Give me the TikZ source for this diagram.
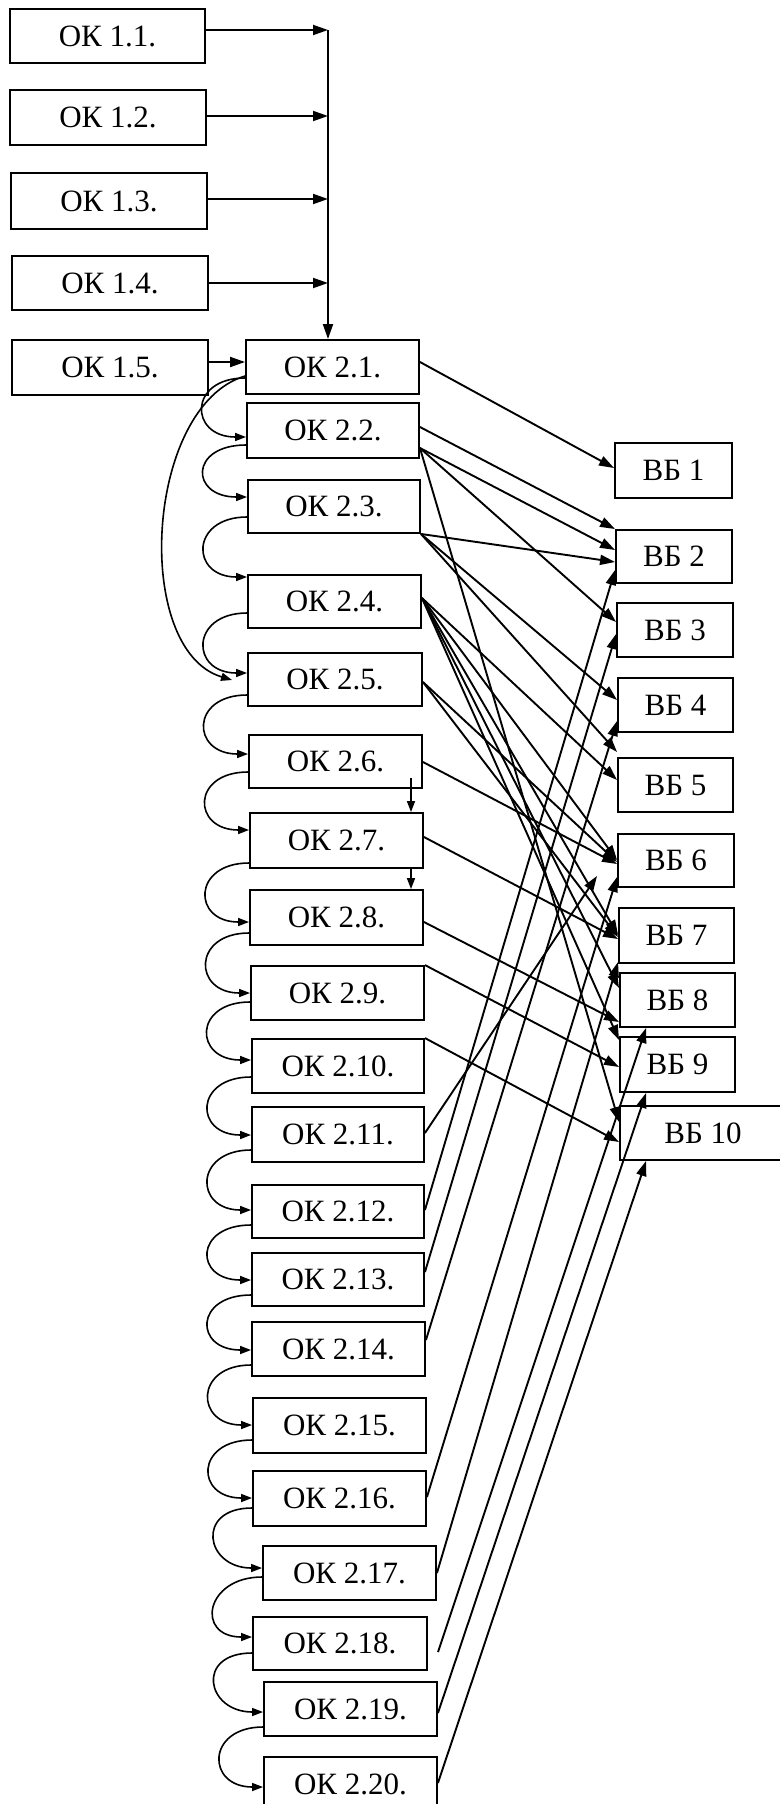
\documentclass[tikz,border=0pt]{standalone}
\usepackage{fontspec}
\setmainfont{Liberation Serif}
\usetikzlibrary{arrows.meta,calc}
\newcommand\mybox[6]{%
  \pgfmathsetmacro\myCx{(#2+#4)/2}\pgfmathsetmacro\myCy{(#3+#5)/2}%
  \pgfmathsetmacro\myW{#4-#2}\pgfmathsetmacro\myH{#5-#3}%
  \node[box,minimum width=\myW pt,minimum height=\myH pt] (#1) at (\myCx,\myCy) {#6};}
\newcommand\myarc[4]{\draw[carr] (#1.west |- 0,#2) .. controls +(-57,0) and +(-57,0) .. (#3.west |- 0,#4);}
\begin{document}
\begin{tikzpicture}[x=1pt,y=-1pt,
  box/.style={draw, line width=1.9pt, inner sep=0pt, font=\fontsize{31}{34}\selectfont},
  arr/.style={line width=1.9pt, -{Triangle[length=15pt,width=10pt]}},
  carr/.style={line width=1.6pt, -{Triangle[length=11pt,width=8pt]}}]
\fill[white] (0,0) rectangle (779,1804);
\useasboundingbox (0,0) rectangle (779,1804);
% left column
\mybox{a1}{10}{9}{205}{63}{ОК 1.1.}
\mybox{a2}{10}{90}{206}{145}{ОК 1.2.}
\mybox{a3}{11}{173}{207}{229}{ОК 1.3.}
\mybox{a4}{12}{256}{208}{310}{ОК 1.4.}
\mybox{a5}{12}{340}{208}{395}{ОК 1.5.}
% middle column
\mybox{b1}{246}{340}{419}{394}{ОК 2.1.}
\mybox{b2}{247}{403}{419}{458}{ОК 2.2.}
\mybox{b3}{248}{480}{420}{533}{ОК 2.3.}
\mybox{b4}{248}{575}{421}{628}{ОК 2.4.}
\mybox{b5}{248}{653}{422}{706}{ОК 2.5.}
\mybox{b6}{249}{735}{422}{788}{ОК 2.6.}
\mybox{b7}{250}{813}{423}{868}{ОК 2.7.}
\mybox{b8}{250}{890}{423}{945}{ОК 2.8.}
\mybox{b9}{251}{966}{424}{1020}{ОК 2.9.}
\mybox{b10}{252}{1039}{424}{1093}{ОК 2.10.}
\mybox{b11}{252}{1107}{424}{1162}{ОК 2.11.}
\mybox{b12}{252}{1185}{424}{1238}{ОК 2.12.}
\mybox{b13}{252}{1253}{424}{1306}{ОК 2.13.}
\mybox{b14}{252}{1322}{425}{1376}{ОК 2.14.}
\mybox{b15}{253}{1398}{426}{1453}{ОК 2.15.}
\mybox{b16}{253}{1471}{426}{1526}{ОК 2.16.}
\mybox{b17}{263}{1546}{436}{1600}{ОК 2.17.}
\mybox{b18}{253}{1617}{427}{1670}{ОК 2.18.}
\mybox{b19}{264}{1682}{437}{1736}{ОК 2.19.}
\mybox{b20}{264}{1757}{437}{1811}{ОК 2.20.}
% right column
\mybox{v1}{615}{443}{732}{498}{ВБ 1}
\mybox{v2}{616}{530}{732}{583}{ВБ 2}
\mybox{v3}{617}{603}{733}{657}{ВБ 3}
\mybox{v4}{618}{678}{733}{732}{ВБ 4}
\mybox{v5}{618}{758}{733}{812}{ВБ 5}
\mybox{v6}{618}{834}{734}{887}{ВБ 6}
\mybox{v7}{619}{908}{734}{963}{ВБ 7}
\mybox{v8}{620}{973}{735}{1027}{ВБ 8}
\mybox{v9}{620}{1037}{735}{1092}{ВБ 9}
\mybox{v10}{620}{1106}{786}{1160}{ВБ 10}
% top bus
\coordinate (j1) at (328,30);
\coordinate (j2) at (328,116);
\coordinate (j3) at (328,199);
\coordinate (j4) at (328,283);
\coordinate (j5) at (0,362);
\draw[arr] (a1.east |- j1) -- (j1);
\draw[arr] (a2.east |- j2) -- (j2);
\draw[arr] (a3.east |- j3) -- (j3);
\draw[arr] (a4.east |- j4) -- (j4);
\draw[arr] (j1) -- (b1.north -| j1);
\draw[arr] (a5.east |- j5) -- (b1.west |- j5);
% left arcs
\myarc{b1}{378}{b2}{437}
\myarc{b2}{445}{b3}{497}
\myarc{b3}{517}{b4}{577}
\myarc{b4}{613}{b5}{673}
\myarc{b5}{695}{b6}{754}
\myarc{b6}{772}{b7}{830}
\myarc{b7}{863}{b8}{922}
\myarc{b8}{933}{b9}{993}
\myarc{b9}{1002}{b10}{1060}
\myarc{b10}{1077}{b11}{1135}
\myarc{b11}{1150}{b12}{1210}
\myarc{b12}{1225}{b13}{1280}
\myarc{b13}{1295}{b14}{1350}
\myarc{b14}{1365}{b15}{1425}
\myarc{b15}{1440}{b16}{1498}
\myarc{b16}{1508}{b17}{1568}
\myarc{b17}{1577}{b18}{1637}
\myarc{b18}{1653}{b19}{1712}
\myarc{b19}{1727}{b20}{1787}
\coordinate (bigend) at (232,680);
\draw[carr] (b1.west |- 0,376) .. controls +(-100,30) and +(-100,-30) .. (bigend);
% small vertical arrows
\coordinate (s1) at (411,778);
\draw[carr] (s1) -- (s1 |- b7.north);
\draw[carr] (b7.south -| s1) -- (b8.north -| s1);
% lines to the right column
\draw[arr] (b1.east |- 0,362) -- (v1.west |- 0,468);
\draw[arr] (b2.east |- 0,427) -- (v2.north west);
\draw[arr] (b2.east |- 0,448) -- (v2.west |- 0,550);
\draw[arr] (b2.east |- 0,448) -- (v3.west |- 0,622);
\draw[arr] (b2.east |- 0,448) -- (v10.west |- 0,1122);
\draw[arr] (b3.south east) -- (v2.west |- 0,562);
\draw[arr] (b3.south east) -- (v4.west |- 0,700);
\draw[arr] (b3.south east) -- (v5.west |- 0,752);
\draw[arr] (b4.east |- 0,598) -- (v5.west |- 0,780);
\draw[arr] (b4.east |- 0,598) -- (v6.west |- 0,860);
\draw[arr] (b4.east |- 0,598) -- (v7.west |- 0,935);
\draw[arr] (b4.east |- 0,598) -- (v8.west |- 0,988);
\draw[arr] (b4.east |- 0,598) -- (v9.west |- 0,1040);
\draw[arr] (b5.east |- 0,682) -- (v6.west |- 0,862);
\draw[arr] (b5.east |- 0,682) -- (v7.west |- 0,937);
\draw[arr] (b6.east |- 0,762) -- (v6.west |- 0,864);
\draw[arr] (b7.east |- 0,837) -- (v7.west |- 0,939);
\draw[arr] (b8.east |- 0,922) -- (v8.west |- 0,1022);
\draw[arr] (b9.north east) -- (v9.west |- 0,1067);
\draw[arr] (b10.north east) -- (v10.west |- 0,1142);
% lines from the lower boxes upward
\coordinate (s18) at (438,1652);
\draw[arr] (b11.east |- 0,1133) -- ($(v6.south west)+(-20,-12)$);
\draw[arr] (b12.east |- 0,1210) -- (v2.west |- 0,570);
\draw[arr] (b13.east |- 0,1272) -- (v3.west |- 0,634);
\draw[arr] (b14.east |- 0,1340) -- (v4.west |- 0,721);
\draw[arr] (b16.east |- 0,1497) -- (v6.west |- 0,877);
\draw[arr] (b17.east |- 0,1573) -- (v7.west |- 0,962);
\draw[arr] (s18) -- ($(v8.south west)+(27,0)$);
\draw[arr] (b19.east |- 0,1713) -- ($(v9.south west)+(27,0)$);
\draw[arr] (b20.east |- 0,1783) -- ($(v10.south west)+(27,0)$);
\end{tikzpicture}
\end{document}
